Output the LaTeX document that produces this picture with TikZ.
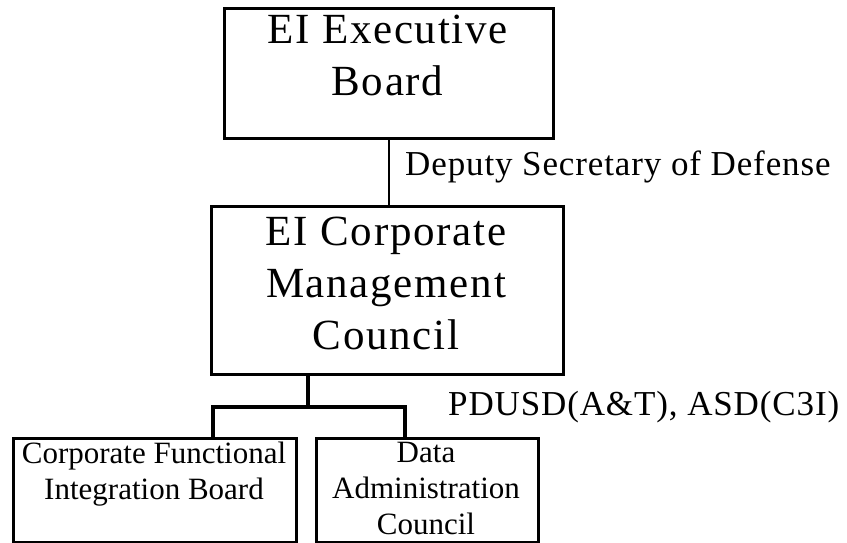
\documentclass[tikz,border=0pt]{standalone}
\usepackage{fontspec}
\setmainfont{Liberation Serif}
\newfontfamily\boardfont[LetterSpace=4]{Liberation Serif}
\newfontfamily\labelfont[LetterSpace=2.5]{Liberation Serif}
\usetikzlibrary{positioning}

\tikzset{
  orgbox/.style={draw, line width=2.6pt, inner sep=0pt, anchor=north west},
  bigtext/.style={font=\boardfont\fontsize{43}{52}\selectfont, align=center, inner sep=0pt, anchor=north},
  smalltext/.style={font=\fontsize{31}{36}\selectfont, align=center, inner sep=0pt, anchor=north},
  sidelabel/.style={font=\labelfont\fontsize{35}{40}\selectfont, inner sep=0pt, anchor=base west},
  link/.style={line width=1.8pt},
  bus/.style={line width=3.6pt}
}

\begin{document}
\begin{tikzpicture}[x=1pt,y=-1pt]
  \useasboundingbox (0,0) rectangle (847,542);
  % the boxes
  \node[orgbox, minimum width=329pt, minimum height=130pt] (exec) at (223,7) {};
  \node[orgbox, minimum width=352pt, minimum height=168pt] (council) at (210,205) {};
  \node[orgbox, minimum width=283pt, minimum height=104pt] (cfib) at (12,437) {};
  \node[orgbox, minimum width=222pt, minimum height=104pt] (dac) at (315,437) {};
  % their texts
  \node[bigtext] (exectext) at (387.5,15) {EI Executive\\Board};
  \node[bigtext] (counciltext) at (386,217) {EI Corporate\\Management\\Council};
  \node[smalltext] (cfibtext) at (154,441.5) {Corporate Functional\\Integration Board};
  \node[smalltext] (dactext) at (426,442) {Data\\Administration\\Council};
  % labels beside the links
  \node[sidelabel] (deplabel) at (405,175) {Deputy Secretary of Defense};
  \node[sidelabel] (pdlabel) at (448,415) {PDUSD(A\&T), ASD(C3I)};
  % links
  \draw[link] (exec.south) -- (exec.south |- council.north);
  \coordinate (split) at (308,407);
  \coordinate (busL) at (213,407);
  \coordinate (busR) at (405,407);
  \draw[bus] (split |- council.south) -- (split);
  \draw[bus] (busL |- cfib.north) -- (busL) -- (busR) -- (busR |- dac.north);
\end{tikzpicture}
\end{document}
